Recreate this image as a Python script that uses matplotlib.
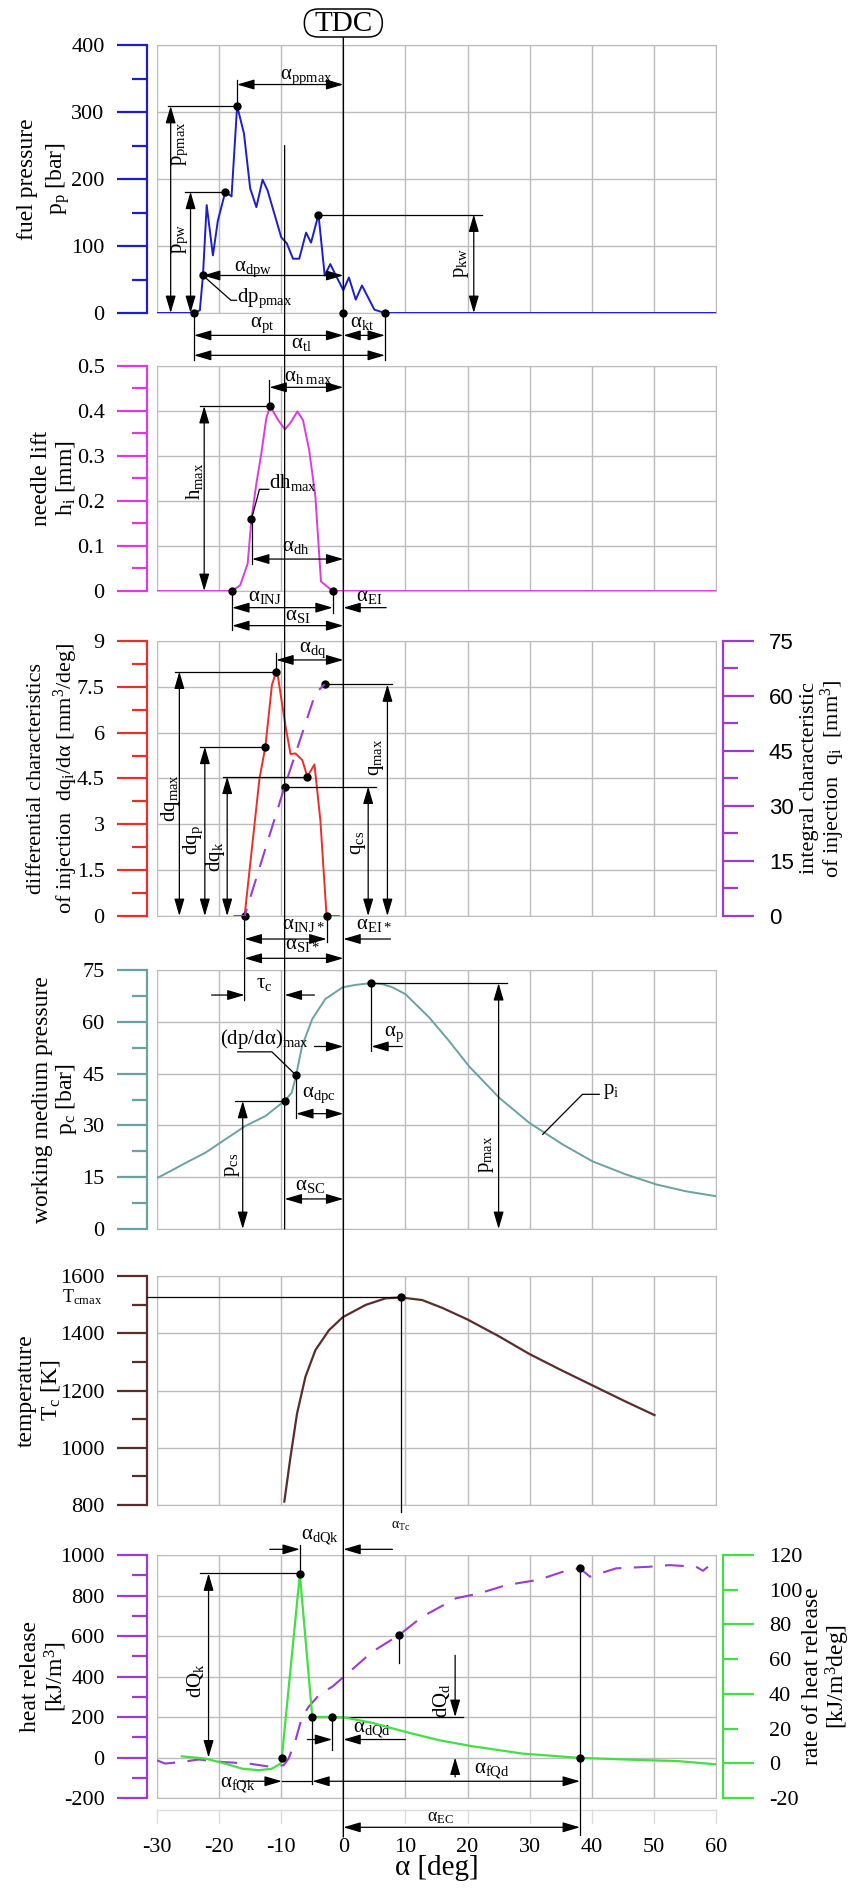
import matplotlib
matplotlib.use('Agg')
import matplotlib.pyplot as plt
import matplotlib.transforms as mtransforms
from matplotlib.patches import ConnectionPatch, FancyBboxPatch

plt.rcParams['font.family'] = ['Liberation Serif', 'DejaVu Serif']
plt.rcParams['mathtext.fontset'] = 'stix'

# ---------------- values ----------------
# fuel pressure p_p [bar]
fp_deg = [-30, -24.0, -23.1, -22.6, -22.0, -21.0, -20.2, -19.0, -18.0, -17.1, -16.0, -15.0,
          -14.0, -13.0, -12.2, -10.0, -9.1, -8.1, -7.1, -6.0, -5.2, -4.0, -3.0, -2.1, -1.2,
          0.0, 0.9, 2.0, 3.0, 5.0, 6.7, 60]
fp_bar = [0, 0, 4, 56, 161, 86, 138, 181, 174, 309, 268, 186, 158, 199, 183, 113, 104, 81,
          81, 120, 105, 147, 56, 73, 56, 34, 53, 20, 41, 5, 0, 0]

# needle lift h_i [mm]
nl_deg = [-30, -17.9, -16.6, -15.4, -14.8, -14.0, -13.2, -12.4, -11.8, -10.5, -9.4, -8.4,
          -7.4, -6.5, -5.5, -4.5, -3.6, -1.7, 60]
nl_mm = [0, 0, 0.013, 0.061, 0.159, 0.239, 0.306, 0.384, 0.411, 0.38, 0.359, 0.376, 0.399,
         0.38, 0.313, 0.21, 0.021, 0, 0]

# differential characteristic of injection dq/dalpha [mm3/deg]
dq_deg = [-15.9, -13.5, -12.55, -11.5, -10.8, -10.5, -9.3, -8.5, -7.7, -6.6, -5.8, -4.65,
          -3.7, -2.7, -0.7]
dq_val = [0, 4.5, 5.54, 7.56, 8.0, 7.8, 6.2, 5.3, 5.32, 5.1, 4.56, 4.96, 3.14, 0, 0]

# integral characteristic of injection q_i [mm3]
qi_deg = [-17.7, -15.9, -9.45, -4.5, -3.0]
qi_val = [0, 0, 35.3, 60.7, 63.2]

# working medium pressure p_c [bar]
pc_deg = [-30, -29.6, -27.6, -24.9, -22.2, -19.8, -15.8, -12.55, -9.45, -8.3, -7.6, -6.65,
          -5.0, -2.9, -0.1, 2.0, 4.5, 6.3, 7.9, 10.0, 13.8, 17.0, 20.2, 25.1, 29.9, 35.3,
          40.1, 45.5, 50.4, 55.2, 60]
pc_bar = [14.8, 15.1, 17.0, 19.6, 22.1, 25.0, 29.8, 32.7, 37.1, 39.5, 44.5, 53.0, 60.8,
          66.6, 70.0, 70.7, 71.2, 70.9, 70.0, 68.0, 61.3, 54.5, 47.2, 38.0, 30.8, 24.5,
          19.6, 15.8, 12.9, 10.9, 9.5]

# temperature T_c [K]
tc_deg = [-9.5, -8.5, -7.45, -6.1, -4.5, -2.3, -0.1, 3.6, 6.8, 9.3, 12.7, 16.0, 20.0, 25.0,
          30.0, 35.0, 40.0, 45.0, 50.1]
tc_K = [812, 969, 1120, 1248, 1341, 1411, 1456, 1499, 1522, 1525, 1516, 1488, 1448, 1390,
        1327, 1272, 1219, 1166, 1114]

# rate of heat release [kJ/m3deg]
hr_deg = [-26.0, -22.2, -19.0, -16.3, -13.6, -11.5, -10.1, -9.9, -7.0, -5.0, -1.8, 0.35,
          4.65, 10.0, 15.4, 20.8, 28.8, 38.1, 46.05, 54.1, 60]
hr_val = [4.0, 2.7, -0.2, -3.1, -4.0, -3.1, -0.2, 3.3, 109, 26.7, 26.7, 26.3, 23.3, 18.1,
          13.3, 9.8, 5.6, 3.1, 2.1, 1.2, -0.6]

# heat release [kJ/m3]
q_deg = [-30, -28.7, -26, -23.3, -19.55, -15.2, -11.5, -9.6, -8.8, -7.7, -6.65, -5.6, -3.7,
         -1.8, 0.35, 4.65, 8.95, 12.7, 18.1, 21.85, 26.2, 31.5, 36.4, 38.1, 39.7, 43.9, 49.3,
         52.5, 56.8, 57.9, 58.7]
q_val = [-14, -30, -22, -10, -22, -30, -47, -38, -5, 85, 200, 250, 316, 349, 406, 522, 604,
         695, 786, 810, 851, 878, 928, 934, 893, 934, 942, 950, 942, 922, 942]

# tick labels
x_ticks = list(range(-30, 61, 10))
fp_ticks = [0, 100, 200, 300, 400]
nl_ticks = [0, 0.1, 0.2, 0.3, 0.4, 0.5]
nl_labels = ['0', '0.1', '0.2', '0.3', '0.4', '0.5']
dq_ticks = [0, 1.5, 3, 4.5, 6, 7.5, 9]
dq_labels = ['0', '1.5', '3', '4.5', '6', '7.5', '9']
qi_ticks = [0, 15, 30, 45, 60, 75]
pc_ticks = [0, 15, 30, 45, 60, 75]
tc_ticks = [800, 1000, 1200, 1400, 1600]
q_ticks = [-200, 0, 200, 400, 600, 800, 1000]
hr_major = [-20, 0, 40, 80, 120]
hr_minor = [20, 60, 100]

BLUE = '#1e1ec8'
MAGENTA = '#de3ade'
RED = '#e8302a'
PURPLE = '#9b3ccf'
TEAL = '#6aa29f'
BROWN = '#5a2d2d'
GREEN = '#42e042'
GRID = '#bcbcbc'

TICK = 16       # tick label size
LAB = 17        # axis title size
ANN = 15        # annotation size

W, H = 852, 1892
X0, X1 = 157, 716
fig = plt.figure(figsize=(W / 100, H / 100), dpi=100)


def m(s):
    return '$\\mathregular{' + s + '}$'


def panel(top, bot, ylim, major, labels, minor, color):
    ax = fig.add_axes([X0 / W, 1 - bot / H, (X1 - X0) / W, (bot - top) / H])
    ax.set_xlim(-30, 60)
    ax.set_ylim(*ylim)
    ax.set_xticks(x_ticks)
    ax.tick_params(axis='x', length=0, labelbottom=False)
    ax.set_yticks(major, labels)
    ax.set_yticks(minor, minor=True)
    ax.grid(True, which='major', color=GRID, lw=1.0)
    ax.set_axisbelow(True)
    for s in ('top', 'right', 'bottom'):
        ax.spines[s].set_color(GRID)
    ax.spines['left'].set_position(('outward', 7.2))
    ax.spines['left'].set_color(color)
    ax.spines['left'].set_linewidth(1.6)
    ax.tick_params(axis='y', which='major', direction='out', length=21.5, width=1.6,
                   color=color, pad=9, labelsize=TICK)
    ax.tick_params(axis='y', which='minor', direction='out', length=10.5, width=1.6,
                   color=color)
    return ax


def right_axis(ax, ylim, color):
    r = ax.twinx()
    r.set_ylim(*ylim)
    for s in ('left', 'top', 'bottom'):
        r.spines[s].set_visible(False)
    r.spines['right'].set_position(('outward', 5))
    r.spines['right'].set_color(color)
    r.spines['right'].set_linewidth(1.6)
    r.tick_params(axis='y', which='major', direction='out', length=22, width=1.6,
                  color=color, pad=11, labelsize=TICK)
    r.tick_params(axis='y', which='minor', direction='out', length=11, width=1.6,
                  color=color, pad=11 + 11, labelsize=TICK)
    return r


def title(ax, lines_px, texts, size=LAB):
    # rotated axis title, one Text per line, x given in figure pixels
    for xp, t in zip(lines_px, texts):
        ax.text((xp - X0) / (X1 - X0), 0.5, t, transform=ax.transAxes, rotation=90,
                ha='center', va='center', fontsize=size)


def line(ax, xs, ys, lw=0.9):
    ax.plot(xs, ys, color='k', lw=lw, clip_on=False, zorder=6)


def arrow(ax, x0, y0, x1, y1, both=True):
    st = ('<|-|>' if both else '-|>') + ',head_length=0.75,head_width=0.22'
    ax.annotate('', xy=(x1, y1), xytext=(x0, y0), annotation_clip=False, zorder=6,
                arrowprops=dict(arrowstyle=st, color='k', lw=0.9, mutation_scale=14,
                                shrinkA=0, shrinkB=0))


def dots(ax, xs, ys):
    ax.plot(xs, ys, 'o', color='k', ms=5, clip_on=False, zorder=7)


def lab(ax, x, y, s, size=ANN, ha='center', va='baseline'):
    ax.text(x, y, s, fontsize=size, ha=ha, va=va, zorder=8)


def vlab(ax, x, y, s, size=ANN):
    ax.text(x, y, s, fontsize=size, rotation=90, ha='center', va='center', zorder=8)


# ---------------- panel 1 : fuel pressure ----------------
ax1 = panel(45, 313, (0, 400), fp_ticks, [str(v) for v in fp_ticks], [50, 150, 250, 350], BLUE)
ax1.plot(fp_deg, fp_bar, color=BLUE, lw=1.4, zorder=4)
title(ax1, [27, 58], ['fuel pressure', m('p_p') + ' [bar]'])
dots(ax1, [-24.05, -22.6, -19.0, -17.1, -4.0, 0, 6.7], [0, 56, 181, 309, 147, 0, 0])
line(ax1, [-17.1, -17.1], [309, 348])
arrow(ax1, -17.1, 341, 0, 341)
lab(ax1, -6.0, 349, m('α_{ppmax}'))
line(ax1, [-28.3, -17.1], [309, 309])
arrow(ax1, -27.8, 309, -27.8, 0)
vlab(ax1, -26.2, 253, m('p_{pmax}'))
line(ax1, [-25.5, -19.0], [181, 181])
arrow(ax1, -24.6, 181, -24.6, 0)
vlab(ax1, -26.2, 111, m('p_{pw}'))
arrow(ax1, -22.6, 56, 0, 56)
lab(ax1, -14.6, 63, m('α_{dpw}'))
line(ax1, [-22.6, -18.1, -17.2], [56, 19, 19])
lab(ax1, -17.1, 16, m('dp_{pmax}'), ha='left')
line(ax1, [-4.0, 22.4], [147, 147])
arrow(ax1, 21.0, 147, 21.0, 0)
vlab(ax1, 19.0, 75, m('p_{kw}'))
line(ax1, [-24.05, -24.05], [0, -70.7])
line(ax1, [6.7, 6.7], [0, -70.7])
arrow(ax1, -24.05, -33.4, 0, -33.4)
lab(ax1, -13.0, -21.4, m('α_{pt}'))
arrow(ax1, 0, -33.4, 6.7, -33.4)
lab(ax1, 3.1, -21.4, m('α_{kt}'))
arrow(ax1, -24.05, -63.2, 6.7, -63.2)
lab(ax1, -6.8, -52.7, m('α_{tl}'))

# ---------------- panel 2 : needle lift ----------------
ax2 = panel(366, 591, (0, 0.5), nl_ticks, nl_labels, [0.05, 0.15, 0.25, 0.35, 0.45], MAGENTA)
ax2.plot(nl_deg, nl_mm, color=MAGENTA, lw=1.4, zorder=4)
title(ax2, [41, 65], ['needle lift', m('h_i') + ' [mm]'])
dots(ax2, [-17.9, -14.8, -11.8, -1.7], [0, 0.159, 0.411, 0])
line(ax2, [-11.9, -11.9], [0.411, 0.469])
arrow(ax2, -11.9, 0.4526, 0, 0.4526)
lab(ax2, -5.6, 0.466, m('α_{h\\ max}'))
line(ax2, [-23.1, -11.8], [0.411, 0.411])
arrow(ax2, -22.4, 0.411, -22.4, 0)
vlab(ax2, -24.0, 0.243, m('h_{max}'))
line(ax2, [-14.8, -13.5, -12.0], [0.159, 0.226, 0.226])
lab(ax2, -11.9, 0.229, m('dh_{max}'), ha='left')
line(ax2, [-14.7, -14.7], [0.159, 0.061])
arrow(ax2, -14.7, 0.071, 0, 0.071)
lab(ax2, -7.6, 0.088, m('α_{dh}'))
line(ax2, [-17.9, -17.9], [0, -0.087])
line(ax2, [-1.7, -1.7], [0, -0.05])
arrow(ax2, -17.9, -0.037, -1.7, -0.037)
lab(ax2, -12.6, -0.0216, m('α_{INJ}'))
arrow(ax2, 6.9, -0.037, 0, -0.037, both=False)
lab(ax2, 4.2, -0.0216, m('α_{EI}'))
arrow(ax2, -17.9, -0.077, 0, -0.077)
lab(ax2, -7.4, -0.0644, m('α_{SI}'))

# ---------------- panel 3 : injection characteristics ----------------
ax3 = panel(641, 916, (0, 9), dq_ticks, dq_labels, [0.75 + 1.5 * i for i in range(6)], RED)
ax3.plot(dq_deg, dq_val, color=RED, lw=1.4, zorder=4)
title(ax3, [36, 66], ['differential characteristics',
                      'of injection  ' + m('dq_i/dα') + ' [mm' + m('^3') + '/deg]'], size=16)
ax3r = right_axis(ax3, (0, 75), PURPLE)
ax3r.set_yticks(qi_ticks, [str(v) for v in qi_ticks], fontfamily='Liberation Sans')
ax3r.set_yticks([7.5 + 15 * i for i in range(5)], minor=True)
ax3r.plot(qi_deg, qi_val, color=PURPLE, lw=1.5, ls=(0, (9, 6)), zorder=4)
title(ax3, [810, 833], ['integral characteristic',
                        'of injection  ' + m('q_i') + '  [mm' + m('^3') + ']'], size=16)
dots(ax3, [-15.9, -12.55, -10.8, -5.8, -2.7, -9.45, -3.0], [0, 5.54, 8.0, 4.56, 0, 4.236, 7.58])
line(ax3, [-10.8, -10.8], [8.0, 8.6])
arrow(ax3, -10.8, 8.38, 0, 8.38)
lab(ax3, -5.0, 8.63, m('α_{dq}'))
line(ax3, [-27.1, -10.8], [8.0, 8.0])
arrow(ax3, -26.4, 8.0, -26.4, 0)
vlab(ax3, -27.9, 3.85, m('dq_{max}'))
line(ax3, [-23.0, -12.55], [5.54, 5.54])
arrow(ax3, -22.3, 5.54, -22.3, 0)
vlab(ax3, -24.1, 2.5, m('dq_p'))
line(ax3, [-19.4, -5.8], [4.56, 4.56])
arrow(ax3, -18.7, 4.56, -18.7, 0)
vlab(ax3, -20.6, 1.95, m('dq_k'))
line(ax3, [-9.45, 5.3], [4.236, 4.236])
arrow(ax3, 4.0, 4.236, 4.0, 0)
vlab(ax3, 2.4, 2.38, m('q_{cs}'))
line(ax3, [-3.0, 7.9], [7.58, 7.58])
arrow(ax3, 7.1, 7.58, 7.1, 0)
vlab(ax3, 5.4, 5.2, m('q_{max}'))
line(ax3, [-2.7, -2.7], [0, -0.85])
arrow(ax3, -15.9, -0.753, -2.7, -0.753)
lab(ax3, -6.4, -0.425, m('α_{INJ*}'))
arrow(ax3, 7.6, -0.753, 0, -0.753, both=False)
lab(ax3, 4.9, -0.425, m('α_{EI*}'))
arrow(ax3, -15.9, -1.385, 0, -1.385)
lab(ax3, -6.6, -1.08, m('α_{SI*}'))

# ---------------- panel 4 : working medium pressure ----------------
ax4 = panel(970, 1229, (0, 75), pc_ticks, [str(v) for v in pc_ticks],
            [7.5 + 15 * i for i in range(5)], TEAL)
ax4.plot(pc_deg, pc_bar, color=TEAL, lw=1.4, zorder=4)
title(ax4, [42, 66], ['working medium pressure', m('p_c') + ' [bar]'])
dots(ax4, [-9.45, -7.6, 4.5], [37.1, 44.5, 71.2])
arrow(ax4, -21.2, 67.75, -15.9, 67.75, both=False)
arrow(ax4, -4.65, 67.75, -9.45, 67.75, both=False)
lab(ax4, -12.8, 69.8, m('τ_c'))
line(ax4, [-7.6, -11.5, -17.0], [44.5, 51.3, 51.3])
lab(ax4, -19.9, 53.5, m('(dp/dα)_{max}'), ha='left')
line(ax4, [-7.6, -7.6], [44.5, 32.2])
arrow(ax4, -7.6, 33.4, 0, 33.4)
lab(ax4, -3.95, 38.1, m('α_{dpc}'))
line(ax4, [-17.4, -9.45], [37.1, 37.1])
arrow(ax4, -16.2, 37.1, -16.2, 0)
vlab(ax4, -17.9, 18.7, m('p_{cs}'))
arrow(ax4, -9.45, 8.7, 0, 8.7)
lab(ax4, -5.3, 11.2, m('α_{SC}'))
line(ax4, [4.5, 4.5], [71.2, 51.6])
arrow(ax4, -4.65, 52.85, 0, 52.85, both=False)
arrow(ax4, 9.5, 52.85, 4.5, 52.85, both=False)
lab(ax4, 8.1, 55.8, m('α_p'))
line(ax4, [4.5, 26.4], [71.2, 71.2])
arrow(ax4, 25.0, 71.2, 25.0, 0)
vlab(ax4, 23.1, 21.6, m('p_{max}'))
line(ax4, [32.1, 38.5, 41.2], [27.4, 39.0, 39.0])
lab(ax4, 41.8, 39.2, m('p_i'), ha='left')

# ---------------- panel 5 : temperature ----------------
ax5 = panel(1276, 1505, (800, 1600), tc_ticks, [str(v) for v in tc_ticks],
            [900, 1100, 1300, 1500], BROWN)
ax5.plot(tc_deg, tc_K, color=BROWN, lw=1.6, zorder=4)
title(ax5, [26, 50], ['temperature', m('T_c') + ' [K]'])
dots(ax5, [9.3], [1525])
line(ax5, [-31.6, 9.3], [1525, 1525])
line(ax5, [9.3, 9.3], [1525, 775])
ax5.text(-0.098, 1525, m('T_{cmax}'), fontsize=13, ha='right', va='center',
         transform=mtransforms.blended_transform_factory(ax5.transAxes, ax5.transData))
lab(ax5, 9.3, 718, m('α_{Tc}'), size=10)

# ---------------- panel 6 : heat release ----------------
ax6 = panel(1555, 1798, (-200, 1000), q_ticks, [str(v) for v in q_ticks],
            [-100, 100, 300, 500, 700, 900], PURPLE)
ax6.plot(q_deg, q_val, color=PURPLE, lw=1.5, ls=(0, (9, 6)), zorder=4)
title(ax6, [30, 56], ['heat release', '[kJ/m' + m('^3') + ']'])
ax6.tick_params(axis='x', labelbottom=True, pad=29, labelsize=TICK)
ax6.set_xticks(x_ticks, [str(v) for v in x_ticks])
ax6.set_xlabel('α [deg]', fontsize=21, labelpad=-2)
ax6r = right_axis(ax6, (-20, 120), GREEN)
ax6r.set_yticks(hr_major, [str(v) for v in hr_major])
ax6r.set_yticks(hr_minor, [str(v) for v in hr_minor], minor=True)
ax6r.plot(hr_deg, hr_val, color=GREEN, lw=1.6, zorder=4)
title(ax6, [813, 838], ['rate of heat release', '[kJ/m' + m('^3') + 'deg]'])
dots(ax6r, [-9.9, -7.0, -5.0, -1.8, 38.1], [3.3, 109, 26.7, 26.7, 3.1])
dots(ax6, [8.95, 38.1], [604, 934])
# faint strip under the panel
for xv in x_ticks:
    ax6.plot([xv, xv], [-259, -323], color='#dcdcdc', lw=1, clip_on=False, zorder=1)
ax6.plot([-30, 60], [-259, -259], color='#dcdcdc', lw=1, clip_on=False, zorder=1)
line(ax6, [-7.0, -7.0], [909, 1050])
arrow(ax6, -11.85, 1028, -7.0, 1028, both=False)
arrow(ax6, 7.9, 1028, 0, 1028, both=False)
lab(ax6, -3.7, 1079, m('α_{dQk}'))
line(ax6, [-23.0, -7.0], [909, 909])
arrow(ax6, -21.7, 909, -21.7, 0)
vlab(ax6, -23.8, 382, m('dQ_k'))
line(ax6, [-5.0, 19.2], [200, 200])
line(ax6, [-5.0, -5.0], [200, -129])
line(ax6, [-1.8, -1.8], [200, 39])
arrow(ax6, -5.8, 88.8, -1.8, 88.8, both=False)
arrow(ax6, 10.0, 88.8, 0, 88.8, both=False)
lab(ax6, 4.65, 123, m('α_{dQd}'))
arrow(ax6, 18.0, 505, 18.0, 200, both=False)
arrow(ax6, 18.0, -96, 18.0, 0, both=False)
vlab(ax6, 15.8, 283, m('dQ_d'))
line(ax6, [8.95, 8.95], [604, 465])
arrow(ax6, -16.6, -117.3, -9.9, -117.3, both=False)
line(ax6, [-9.9, -5.0], [-117.3, -117.3])
arrow(ax6, -5.0, -117.3, 38.1, -117.3)
lab(ax6, -16.9, -150, m('α_{fQk}'))
lab(ax6, 23.9, -79.5, m('α_{fQd}'))
line(ax6, [38.1, 38.1], [934, -383])
arrow(ax6, 0, -344.7, 38.1, -344.7)
lab(ax6, 15.6, -315, m('α_{EC}'), size=13)

# ---------------- lines crossing several panels ----------------
for x, axA, yA, axB, yB in [(-9.45, ax1, 250, ax4, 0), (-15.9, ax3, 0, ax4, 66.1)]:
    fig.add_artist(ConnectionPatch(xyA=(x, yA), coordsA=axA.transData, xyB=(x, yB),
                                   coordsB=axB.transData, color='k', lw=0.9, zorder=6))
tdc = mtransforms.blended_transform_factory(ax1.transData, fig.transFigure)
fig.add_artist(ConnectionPatch(xyA=(0, 1 - 36 / H), coordsA=tdc, xyB=(0, 1 - 1837 / H),
                               coordsB=tdc, color='k', lw=1.0, zorder=6))
cx = ax1.transData.transform((0, 0))[0]
fig.add_artist(FancyBboxPatch((cx - 39, H - 37), 78, 28, boxstyle='round,pad=0,rounding_size=14',
                              transform=mtransforms.IdentityTransform(), fc='w', ec='k', lw=1.1,
                              zorder=9))
fig.text(cx / W, 1 - 24 / H, 'TDC', fontsize=21, ha='center', va='center', zorder=10)

fig.savefig('out.png', dpi=100)
